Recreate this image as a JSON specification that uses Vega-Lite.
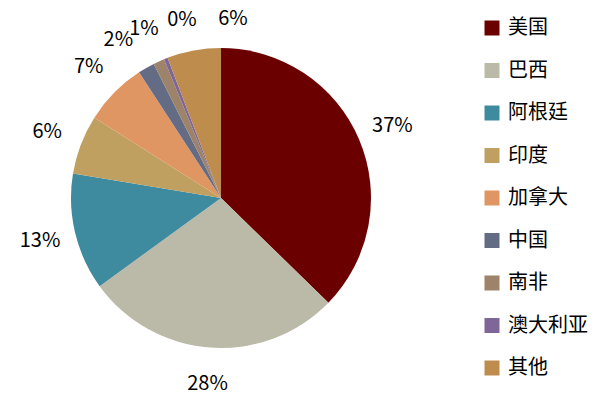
{
  "$schema": "https://vega.github.io/schema/vega-lite/v6.json",
  "width": 442,
  "height": 396,
  "padding": {"left": 0, "top": 0, "right": 161, "bottom": 3},
  "autosize": {"type": "none"},
  "background": "white",
  "config": {"view": {"stroke": null}, "font": "Noto Sans CJK SC"},
  "data": {"values": [
    {"country": "美国", "share": 37.3, "idx": 1},
    {"country": "巴西", "share": 27.7, "idx": 2},
    {"country": "阿根廷", "share": 12.6, "idx": 3},
    {"country": "印度", "share": 6.4, "idx": 4},
    {"country": "加拿大", "share": 6.8, "idx": 5},
    {"country": "中国", "share": 1.8, "idx": 6},
    {"country": "南非", "share": 1.2, "idx": 7},
    {"country": "澳大利亚", "share": 0.4, "idx": 8},
    {"country": "其他", "share": 5.8, "idx": 9}
  ]},
  "transform": [{"calculate": "format(datum.share / 100, '.0%')", "as": "label"}],
  "encoding": {
    "theta": {"field": "share", "type": "quantitative", "stack": true},
    "order": {"field": "idx", "type": "quantitative"}
  },
  "layer": [
    {
      "mark": {"type": "arc", "outerRadius": 150},
      "encoding": {
        "color": {
          "field": "country", "type": "nominal",
          "scale": {
            "domain": ["美国", "巴西", "阿根廷", "印度", "加拿大", "中国", "南非", "澳大利亚", "其他"],
            "range": ["#6B0000", "#BBBAA8", "#3E8A9E", "#BFA060", "#E09662", "#646C85", "#9C8369", "#7F6699", "#BE8D4E"]
          },
          "legend": {
            "title": null,
            "orient": "none",
            "legendX": 482,
            "legendY": 18,
            "symbolType": "square",
            "symbolSize": 225,
            "symbolStrokeWidth": 0,
            "labelFontSize": 20,
            "labelFont": "Noto Sans CJK SC",
            "labelColor": "#000000",
            "labelOffset": 6,
            "rowPadding": 22.5,
            "labelLimit": 200
          }
        }
      }
    },
    {
      "mark": {"type": "text", "radius": 186, "fontSize": 20, "font": "Noto Sans CJK SC", "color": "#000000"},
      "encoding": {
        "text": {"condition": {"test": "datum.idx != 6 && datum.idx != 8 && datum.idx != 9", "field": "label"}, "value": ""}
      }
    },
    {
      "mark": {"type": "text", "radius": 182, "dx": -12, "fontSize": 20, "font": "Noto Sans CJK SC", "color": "#000000"},
      "encoding": {
        "text": {"condition": {"test": "datum.idx == 6", "field": "label"}, "value": ""}
      }
    },
    {
      "mark": {"type": "text", "radius": 182, "dx": 28, "dy": -9, "fontSize": 20, "font": "Noto Sans CJK SC", "color": "#000000"},
      "encoding": {
        "text": {"condition": {"test": "datum.idx == 8", "field": "label"}, "value": ""}
      }
    },
    {
      "mark": {"type": "text", "radius": 182, "dx": 45, "fontSize": 20, "font": "Noto Sans CJK SC", "color": "#000000"},
      "encoding": {
        "text": {"condition": {"test": "datum.idx == 9", "field": "label"}, "value": ""}
      }
    }
  ]
}
